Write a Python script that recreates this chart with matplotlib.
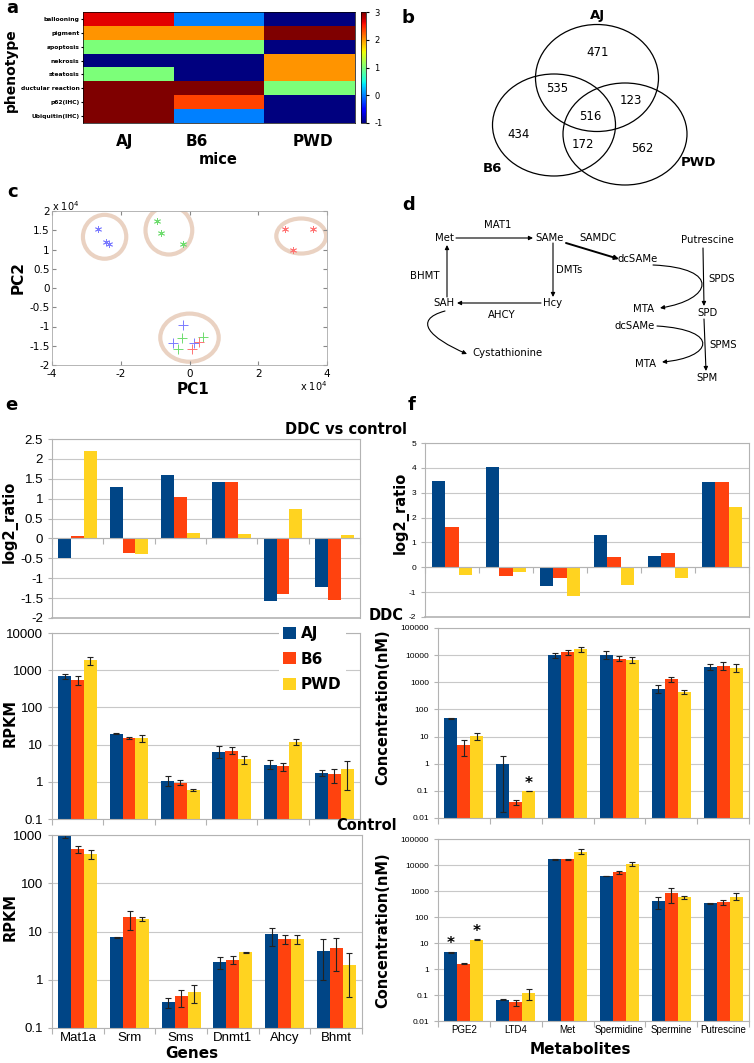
import matplotlib
matplotlib.use('Agg')
import matplotlib.pyplot as plt
import numpy as np
from matplotlib.patches import Ellipse, FancyArrowPatch
from matplotlib.path import Path
from matplotlib.ticker import FuncFormatter, FixedLocator, NullLocator, NullFormatter

plt.rcParams['axes.unicode_minus'] = False

# ---------------- data ----------------
phenotypes = ['ballooning', 'pigment', 'apoptosis', 'nekrosis', 'steatosis',
              'ductular reaction', 'p62(IHC)', 'Ubiquitin(IHC)']
mice = ['AJ', 'B6', 'PWD']
phenotype_scores = [[2.65, 0, -1],
                    [2, 2, 3],
                    [1, 1, -1],
                    [-1, -1, 2],
                    [1, -1, 2],
                    [3, 3, 1],
                    [3, 2.35, -1],
                    [3, 0, -1]]

venn_counts = [471, 535, 123, 516, 434, 172, 562]  # AJ, AJ&B6, AJ&PWD, all, B6, B6&PWD, PWD

# PCA scores (blue, green, red groups)
pc1_ddc = [[-2.67e4, -2.43e4, -2.33e4], [-0.95e4, -0.84e4, -0.2e4], [2.77e4, 3.59e4, 3.01e4]]
pc2_ddc = [[1.53e4, 1.2e4, 1.15e4], [1.74e4, 1.44e4, 1.15e4], [1.54e4, 1.52e4, 0.98e4]]
pc1_ctl = [[-0.2e4, -0.47e4, 0.13e4], [-0.23e4, -0.33e4, 0.4e4], [0.28e4, 0.08e4]]
pc2_ctl = [[-0.95e4, -1.42e4, -1.42e4], [-1.29e4, -1.59e4, -1.27e4], [-1.4e4, -1.59e4]]

strains = ['AJ', 'B6', 'PWD']
genes = ['Mat1a', 'Srm', 'Sms', 'Dnmt1', 'Ahcy', 'Bhmt']
metabolites = ['PGE2', 'LTD4', 'Met', 'Spermidine', 'Spermine', 'Putrescine']

gene_log2 = [[-0.5, 1.3, 1.6, 1.43, -1.57, -1.22],
             [0.07, -0.37, 1.05, 1.42, -1.4, -1.55],
             [2.2, -0.4, 0.13, 0.12, 0.73, 0.09]]

rpkm_ddc = [[700, 19.5, 1.05, 6.4, 2.9, 1.75],
            [540, 15.1, 0.94, 6.9, 2.6, 1.6],
            [1850, 14.6, 0.6, 4.1, 11.6, 2.2]]
rpkm_ddc_lo = [[575, 18.7, 0.77, 4.4, 2.2, 1.4],
               [400, 14.3, 0.8, 5.5, 1.97, 0.93],
               [1360, 11.4, 0.57, 3.0, 9.6, 0.6]]
rpkm_ddc_hi = [[810, 20.3, 1.43, 9.1, 3.8, 2.1],
               [700, 15.9, 1.1, 8.7, 3.3, 2.2],
               [2270, 18, 0.63, 5.0, 14, 3.7]]

rpkm_ctl = [[980, 7.6, 0.34, 2.29, 8.7, 4.0],
            [515, 19.8, 0.45, 2.6, 6.9, 4.5],
            [405, 18.3, 0.56, 3.7, 6.9, 2.0]]
rpkm_ctl_lo = [[850, 7.45, 0.26, 1.66, 5.0, 1.0],
               [420, 11, 0.27, 2.1, 5.6, 1.5],
               [315, 16.8, 0.33, 3.5, 5.6, 0.44]]
rpkm_ctl_hi = [[1120, 7.75, 0.41, 3.0, 12, 6.9],
               [600, 27, 0.6, 3.1, 8.3, 7.5],
               [480, 19.8, 0.77, 3.8, 8.3, 3.6]]

metab_log2 = [[3.47, 4.04, -0.76, 1.31, 0.46, 3.43],
              [1.61, -0.34, -0.42, 0.4, 0.59, 3.43],
              [-0.32, -0.2, -1.15, -0.71, -0.45, 2.42]]

conc_ddc = [[48, 1.0, 10400, 10400, 580, 3650],
            [4.7, 0.038, 13000, 7400, 1320, 4100],
            [10.2, 0.098, 16800, 6800, 450, 3360]]
conc_ddc_lo = [[46, 0.016, 8000, 7000, 400, 2800],
               [1.9, 0.031, 10000, 6000, 1000, 2900],
               [7.6, 0.096, 13500, 5300, 380, 2300]]
conc_ddc_hi = [[50, 1.92, 12500, 14000, 800, 4700],
               [7.7, 0.046, 15500, 9000, 1600, 5600],
               [13, 0.1, 20000, 8700, 530, 4800]]

conc_ctl = [[4.5, 0.066, 16500, 3800, 410, 335],
            [1.6, 0.052, 16300, 5200, 810, 375],
            [13.5, 0.12, 32000, 10900, 590, 600]]
conc_ctl_lo = [[4.3, 0.062, 15500, 3700, 200, 320],
               [1.5, 0.038, 15300, 4400, 360, 300],
               [13.0, 0.063, 26000, 9200, 500, 460]]
conc_ctl_hi = [[4.7, 0.07, 17500, 3900, 600, 350],
               [1.7, 0.066, 17300, 6100, 1260, 470],
               [14.0, 0.175, 41000, 12500, 650, 810]]

bar_colors = ['#004586', '#ff420e', '#ffd320']

# ---------------- helpers ----------------
W, H = 754, 1063
fig = plt.figure(figsize=(W / 100, H / 100), dpi=100)


def rect(x0, y0, x1, y1):
    return [x0 / W, 1 - y1 / H, (x1 - x0) / W, (y1 - y0) / H]


def ftext(x, y, s, **kw):
    kw.setdefault('ha', 'center')
    kw.setdefault('va', 'center')
    fig.text(x / W, 1 - y / H, s, **kw)


def bar_panel(ax, vals, lo=None, hi=None, labels=None, fs=9.5):
    x = np.arange(len(vals[0]))
    for i, s in enumerate(strains):
        v = np.array(vals[i], float)
        yerr = None
        if lo is not None:
            yerr = [v - np.array(lo[i]), np.array(hi[i]) - v]
        ax.bar(x + (i - 1) * 0.25, v, 0.25, color=bar_colors[i], label=s, yerr=yerr,
               error_kw=dict(ecolor='#222222', elinewidth=0.8, capsize=2, capthick=0.8),
               zorder=2)
    for sp in ax.spines.values():
        sp.set_color('#b3b3b3')
        sp.set_linewidth(0.8)
    ax.set_xlim(-0.5, 5.5)
    ax.xaxis.set_major_locator(FixedLocator(np.arange(-0.5, 6, 1)))
    ax.xaxis.set_major_formatter(NullFormatter())
    ax.tick_params(axis='x', which='major', length=4, color='#b3b3b3')
    if labels:
        ax.set_xticks(x, labels, minor=True)
        ax.tick_params(axis='x', which='minor', length=0, labelsize=fs, pad=3)
    ax.tick_params(axis='both', which='both', labelfontfamily='Liberation Sans')
    ax.tick_params(axis='y', labelsize=fs, length=3, color='#b3b3b3')
    ax.grid(axis='y', color='#c8c8c8', lw=0.8)
    ax.set_axisbelow(True)


def log_axis(ax, lo, hi):
    ax.set_yscale('log')
    ax.set_ylim(lo, hi)
    ax.yaxis.set_major_formatter(FuncFormatter(lambda v, _: f'{v:g}'))
    ax.yaxis.set_minor_locator(NullLocator())


def ratio_axis(ax, lo, hi, step):
    ax.set_ylim(lo, hi)
    ax.set_yticks(np.arange(lo, hi + step / 2, step))
    ax.yaxis.set_major_formatter(FuncFormatter(lambda v, _: f'{v:g}'))
    ax.spines['bottom'].set_position(('data', 0))
    ax.axhline(lo, color='#b3b3b3', lw=1.2, clip_on=False)


# ---------------- a: heatmap ----------------
axa = fig.add_axes(rect(83, 12, 355, 123))
im = axa.imshow(phenotype_scores, cmap='jet', vmin=-1, vmax=3, aspect='auto',
                interpolation='nearest')
axa.set_yticks(np.arange(len(phenotypes)), phenotypes, fontsize=4.3, fontweight='bold')
axa.set_xticks([-0.04, 0.76, 2.04], mice, fontsize=11, fontweight='bold')
axa.tick_params(axis='y', length=1.5, pad=1)
axa.tick_params(axis='x', length=0, pad=8)
for sp in axa.spines.values():
    sp.set_linewidth(0.5)
cax = fig.add_axes(rect(361, 12, 366, 123))
cb = fig.colorbar(im, cax=cax, ticks=[-1, 0, 1, 2, 3])
cb.ax.tick_params(labelsize=6, length=2, pad=4)
cb.outline.set_linewidth(0.5)
ftext(11, 70, 'phenotype', rotation=90, fontsize=10, fontweight='bold')
ftext(218, 160, 'mice', fontsize=10.5, fontweight='bold')
ftext(12, 8, 'a', fontsize=13, fontweight='bold')

# ---------------- c: PCA ----------------
axc = fig.add_axes(rect(52, 211, 327, 365))
pca_colors = ['#7b7bff', '#6fdc6f', '#ff7373']
circles = [(-2.47e4, 1.33e4, 1.26e4, 1.14e4), (-0.6e4, 1.5e4, 1.36e4, 1.26e4),
           (3.25e4, 1.35e4, 1.45e4, 0.91e4), (0.0, -1.29e4, 1.7e4, 1.25e4)]
for cx, cy, cw, ch in circles:
    axc.add_patch(Ellipse((cx, cy), cw, ch, fill=False, ec='#ead2c2', lw=3, zorder=1))
for i in range(3):
    axc.plot(pc1_ddc[i], pc2_ddc[i], marker=(6, 2, 0), ms=5, color=pca_colors[i], mew=0.6,
             ls='none')
    axc.plot(pc1_ctl[i], pc2_ctl[i], '+', ms=7, color=pca_colors[i], mew=0.7, ls='none')
axc.set_xlim(-4e4, 4e4)
axc.set_ylim(-2e4, 2e4)
axc.set_xticks(np.arange(-4e4, 4.1e4, 2e4))
axc.set_yticks(np.arange(-2e4, 2.05e4, 0.5e4))
axc.xaxis.set_major_formatter(FuncFormatter(lambda v, _: f'{v / 1e4:g}'))
axc.yaxis.set_major_formatter(FuncFormatter(lambda v, _: f'{v / 1e4:g}'))
axc.tick_params(direction='in', labelsize=7.5, length=3, top=True, right=True, pad=1.5,
                color='#888888')
axc.tick_params(axis='x', pad=3)
for sp in axc.spines.values():
    sp.set_color('#aaaaaa')
    sp.set_linewidth(0.6)
ftext(52, 206, r'x 10$^4$', fontsize=7, ha='left')
ftext(300, 386, r'x 10$^4$', fontsize=7, ha='left')
ftext(18, 278, 'PC2', rotation=90, fontsize=11, fontweight='bold')
ftext(193, 390, 'PC1', fontsize=11, fontweight='bold')
ftext(13, 192, 'c', fontsize=13, fontweight='bold')

# ---------------- e: gene panels ----------------
axe1 = fig.add_axes(rect(52, 439, 360, 618))
bar_panel(axe1, gene_log2)
ratio_axis(axe1, -2, 2.5, 0.5)
axe2 = fig.add_axes(rect(52, 633, 360, 819))
bar_panel(axe2, rpkm_ddc, rpkm_ddc_lo, rpkm_ddc_hi)
log_axis(axe2, 0.1, 10000)
leg = axe2.legend(loc='upper left', bbox_to_anchor=(271 / W, 1 - 614 / H),
                  bbox_transform=fig.transFigure, prop=dict(size=11, weight='bold'),
                  handlelength=0.85, handleheight=0.85, labelspacing=0.68,
                  handletextpad=0.3, borderpad=0.3, fancybox=False, framealpha=1,
                  edgecolor='none', facecolor='white')
axe3 = fig.add_axes(rect(52, 835, 362, 1028))
bar_panel(axe3, rpkm_ctl, rpkm_ctl_lo, rpkm_ctl_hi, labels=genes)
log_axis(axe3, 0.1, 1000)
ftext(10, 522, 'log2_ratio', rotation=90, fontsize=10.5, fontweight='bold')
ftext(10, 723, 'RPKM', rotation=90, fontsize=10.5, fontweight='bold')
ftext(10, 917, 'RPKM', rotation=90, fontsize=10.5, fontweight='bold')
ftext(192, 1054, 'Genes', fontsize=11, fontweight='bold')
ftext(11, 405, 'e', fontsize=13, fontweight='bold')

# ---------------- f: metabolite panels ----------------
axf1 = fig.add_axes(rect(425, 443, 749, 617))
bar_panel(axf1, metab_log2, fs=6)
ratio_axis(axf1, -2, 5, 1)
axf2 = fig.add_axes(rect(438, 628, 749, 818))
bar_panel(axf2, conc_ddc, conc_ddc_lo, conc_ddc_hi, fs=6)
log_axis(axf2, 0.01, 100000)
axf2.text(1.25, conc_ddc[2][1] * 1.05, '*', ha='center', va='bottom', fontsize=11,
          fontweight='bold')
axf3 = fig.add_axes(rect(438, 839, 749, 1021))
bar_panel(axf3, conc_ctl, conc_ctl_lo, conc_ctl_hi, labels=metabolites, fs=7)
axf3.tick_params(axis='y', labelsize=6)
log_axis(axf3, 0.01, 100000)
for gx, val in [(-0.25, conc_ctl[0][0]), (0.25, conc_ctl[2][0])]:
    axf3.text(gx, val * 1.05, '*', ha='center', va='bottom', fontsize=11, fontweight='bold')
ftext(401, 513, 'log2_ratio', rotation=90, fontsize=10.5, fontweight='bold')
ftext(383, 707, 'Concentration(nM)', rotation=90, fontsize=10.5, fontweight='bold')
ftext(383, 930, 'Concentration(nM)', rotation=90, fontsize=10.5, fontweight='bold')
ftext(580, 1049, 'Metabolites', fontsize=11, fontweight='bold')
ftext(412, 405, 'f', fontsize=13, fontweight='bold')

ftext(346, 429, 'DDC vs control', fontsize=10.5, fontweight='bold')
ftext(386, 616, 'DDC', fontsize=10.5, fontweight='bold')
ftext(367, 826, 'Control', fontsize=10.5, fontweight='bold')

# ---------------- overlay (b: venn, d: pathway) ----------------
ov = fig.add_axes([0, 0, 1, 1])
ov.set_xlim(0, W)
ov.set_ylim(H, 0)
ov.axis('off')

for cx, cy, cw, ch in [(597, 78, 123, 107), (554, 125, 123, 102), (625, 134, 124, 102)]:
    ov.add_patch(Ellipse((cx, cy), cw, ch, fill=False, ec='black', lw=0.9))
venn_xy = [(598, 53), (557, 88), (631, 100), (590, 117), (519, 135), (583, 144), (642, 148)]
for (vx, vy), n in zip(venn_xy, venn_counts):
    ov.text(vx, vy, str(n), ha='center', va='center', fontsize=8.5)
ov.text(597, 15, 'AJ', ha='center', va='center', fontsize=9.5, fontweight='bold')
ov.text(492, 168, 'B6', ha='center', va='center', fontsize=9.5, fontweight='bold')
ov.text(698, 163, 'PWD', ha='center', va='center', fontsize=9.5, fontweight='bold')
ov.text(408, 18, 'b', ha='center', va='center', fontsize=13, fontweight='bold')

# pathway
fs_d = 7.3
labels_d = [('Met', 445, 238), ('MAT1', 498, 225), ('SAMe', 550, 238), ('SAMDC', 598, 238),
            ('Putrescine', 707, 240), ('dcSAMe', 638, 259), ('DMTs', 569, 270),
            ('BHMT', 425, 276), ('SPDS', 722, 279), ('SAH', 444, 303), ('Hcy', 553, 303),
            ('AHCY', 502, 315), ('MTA', 643, 309), ('SPD', 707, 313), ('dcSAMe', 635, 326),
            ('SPMS', 723, 345), ('Cystathionine', 507, 353), ('MTA', 645, 364),
            ('SPM', 707, 378)]
for s, tx, ty in labels_d:
    ov.text(tx, ty, s, ha='center', va='center', fontsize=fs_d)
ov.text(409, 205, 'd', ha='center', va='center', fontsize=13, fontweight='bold')


def arrow(p0, p1, lw=0.8):
    ov.annotate('', xy=p1, xytext=p0,
                arrowprops=dict(arrowstyle='-|>', lw=lw, color='black', mutation_scale=6,
                                shrinkA=0, shrinkB=0))


arrow((456, 238), (533, 238))
arrow((566, 243), (619, 259), lw=1.4)
arrow((553, 243), (553, 297))
arrow((541, 303), (457, 303))
arrow((447, 297), (447, 245))
arrow((703, 248), (704, 306))
arrow((704, 319), (706, 371))


def curve(pts):
    path = Path(pts, [Path.MOVETO, Path.CURVE4, Path.CURVE4, Path.CURVE4])
    ov.add_patch(FancyArrowPatch(path=path, arrowstyle='-|>', mutation_scale=6, lw=0.8,
                                 color='black'))


curve([(445, 311), (412, 320), (430, 338), (467, 354)])
curve([(653, 265), (722, 268), (712, 300), (660, 308)])
curve([(657, 326), (722, 330), (712, 358), (662, 362)])

fig.savefig('out.png', dpi=100)
